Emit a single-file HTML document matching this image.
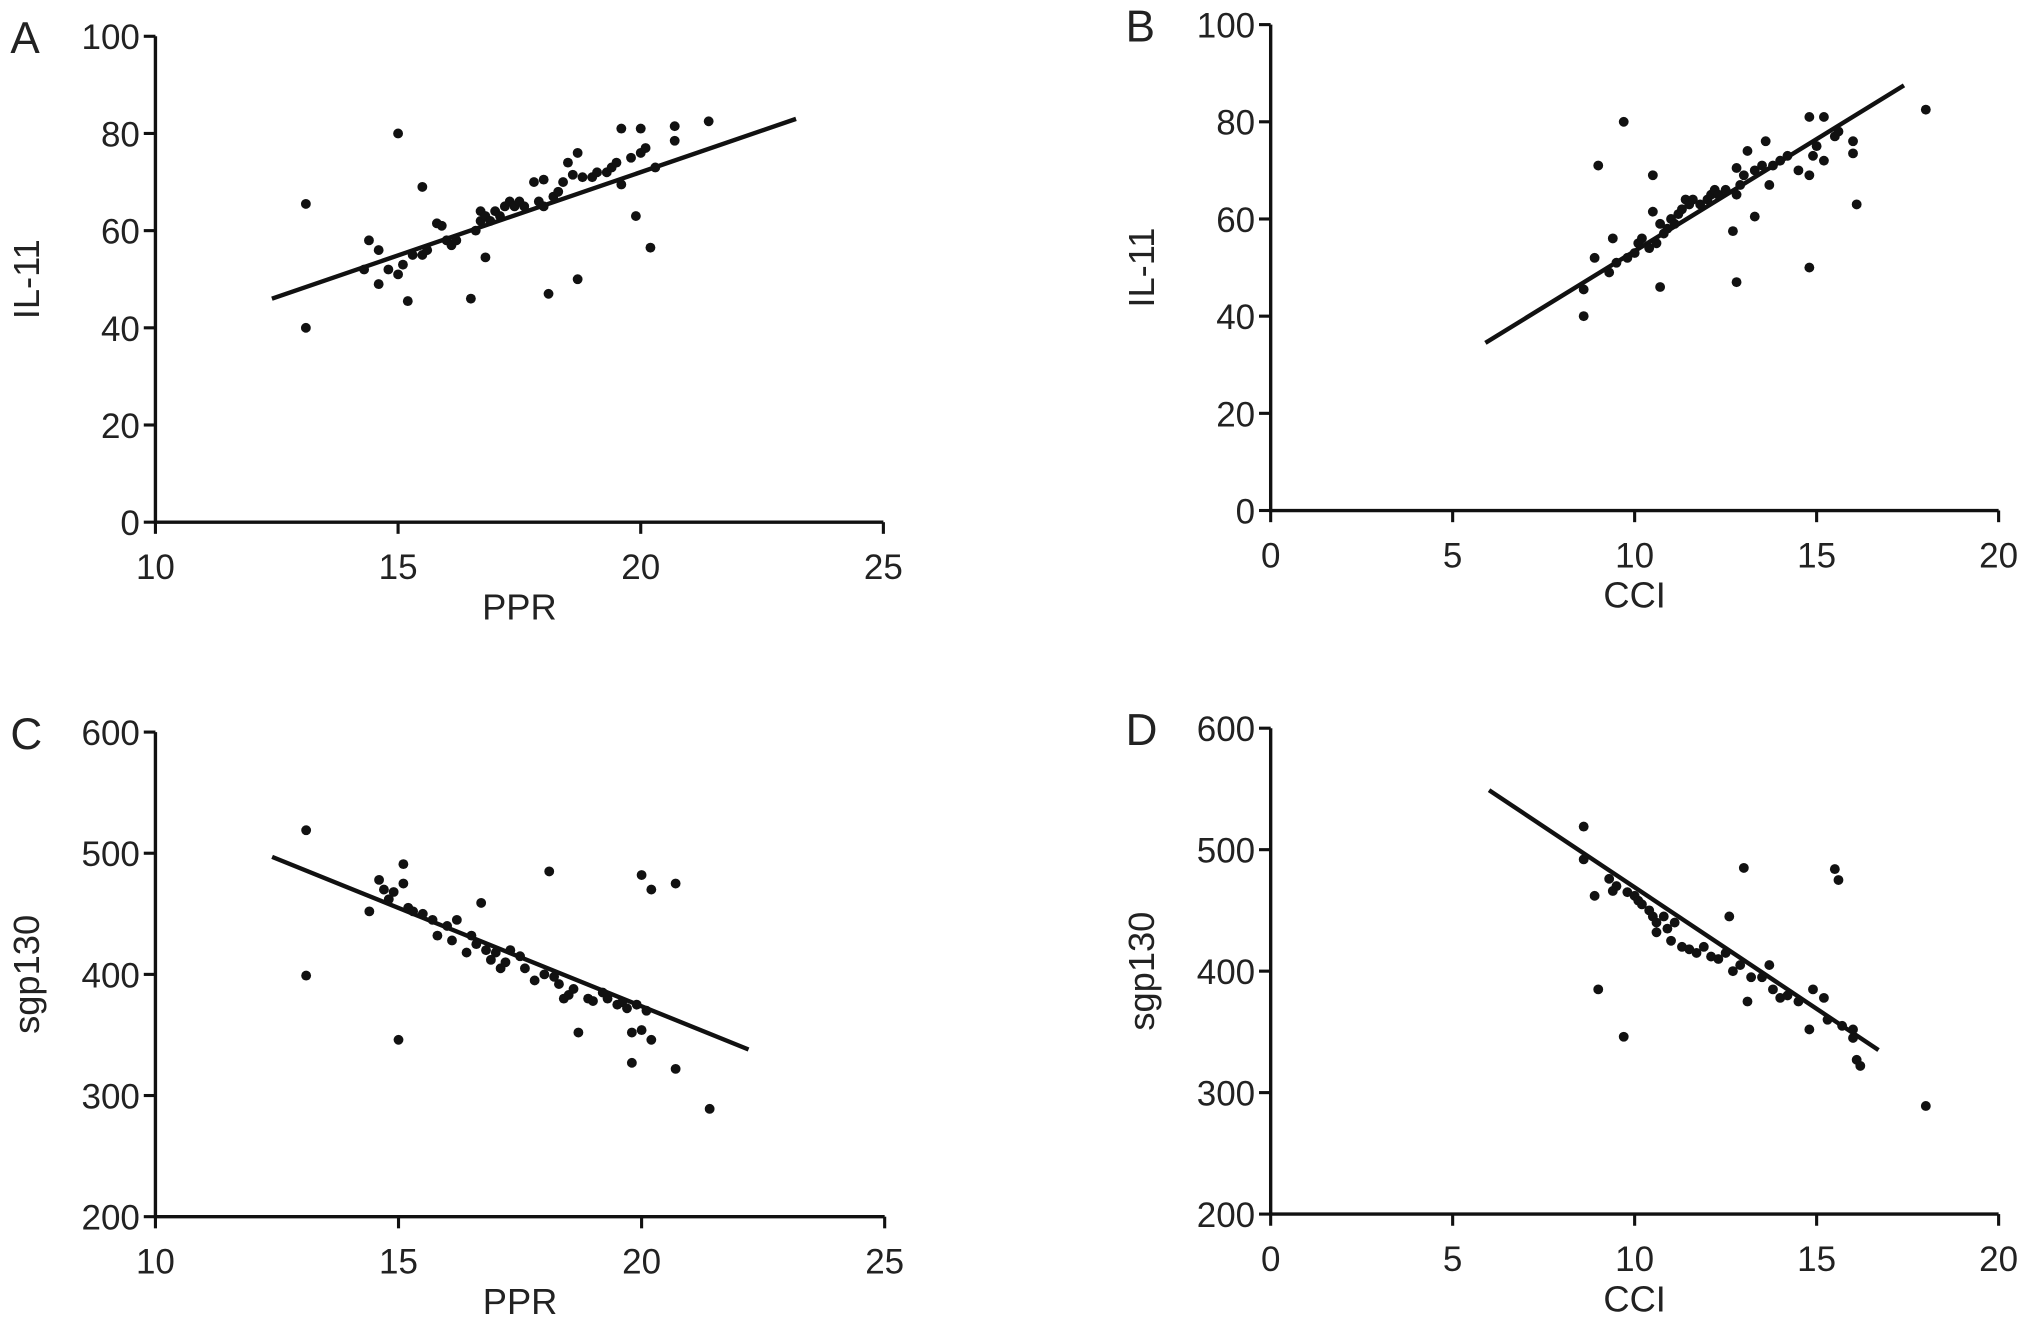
<!DOCTYPE html>
<html><head><meta charset="utf-8"><style>
html,body{margin:0;padding:0;background:#fff;}
svg{display:block;}
text{font-family:"Liberation Sans",sans-serif;fill:#222;}
</style></head><body>
<svg id="fig" width="2031" height="1332" viewBox="0 0 1568 1028" preserveAspectRatio="none" xmlns="http://www.w3.org/2000/svg"></svg>
<script>
// Panel A data: PPR vs IL-11
const aX=[13.1,13.1,15,15.5,14.4,14.6,14.6,14.3,14.8,15,15.1,15.2,15.3,15.5,15.6,15.8,15.9,16,16.1,16.2,16.5,16.6,16.7,16.7,16.8,16.8,16.9,17,17.1,17.2,17.3,17.4,17.5,17.6,17.8,17.9,18,18,18.1,18.2,18.3,18.4,18.5,18.6,18.7,18.7,18.8,19,19.1,19.3,19.4,19.5,19.6,19.6,19.8,19.9,20,20,20.1,20.2,20.3,20.7,20.7,21.4];
const aY=[65.5,40,80,69,58,56,49,52,52,51,53,45.5,55,55,56,61.5,61,58,57,58,46,60,62,64,54.5,63,62,64,63,65,66,65,66,65,70,66,70.5,65,47,67,68,70,74,71.5,76,50,71,71,72,72,73,74,81,69.5,75,63,76,81,77,56.5,73,81.5,78.5,82.5];
const aFitX=[12.4,23.2];
const aFitY=[46,83];
// Panel B data: CCI vs IL-11
const bX=[8.6,8.6,8.9,9,9.4,9.3,9.5,9.7,9.8,10,10.1,10.2,10.4,10.5,10.5,10.6,10.7,10.7,10.8,10.9,11,11.1,11.2,11.3,11.4,11.5,11.6,11.8,12,12.1,12.2,12.3,12.5,12.7,12.8,12.8,12.8,12.9,13,13.1,13.3,13.3,13.5,13.6,13.7,13.8,14,14.2,14.5,14.8,14.8,14.9,14.8,15,15.2,15.2,15.5,15.6,16,16,16.1,18];
const bY=[45.5,40,52,71,56,49,51,80,52,53,55,56,54,69,61.5,55,59,46,57,58,60,59,61,62,64,63,64,63,64,65,66,65,66,57.5,65,70.5,47,67,69,74,60.5,70,71,76,67,71,72,73,70,81,69,73,50,75,81,72,77,78,76,73.5,63,82.5];
const bFitX=[5.9,17.4];
const bFitY=[34.5,87.5];
// Panel C data: PPR vs sgp130
const cX=[13.1,13.1,14.4,14.6,14.7,14.8,14.9,15,15.1,15.1,15.2,15.3,15.5,15.7,15.8,16,16.1,16.2,16.4,16.5,16.6,16.7,16.8,16.9,17,17.1,17.2,17.3,17.5,17.6,17.8,18,18.1,18.2,18.3,18.4,18.5,18.6,18.7,18.9,19,19.2,19.3,19.5,19.6,19.7,19.8,19.8,19.9,20,20,20.1,20.2,20.2,20.7,20.7,21.4];
const cY=[519,399,452,478,470,462,468,346,475,491,455,452,450,445,432,440,428,445,418,432,425,459,420,412,418,405,410,420,415,405,395,400,485,398,392,380,383,388,352,380,378,385,380,375,377,372,352,327,375,354,482,370,470,346,475,322,289];
const cFitX=[12.4,22.2];
const cFitY=[497,338];
// Panel D data: CCI vs sgp130
const dX=[8.6,8.6,8.9,9,9.3,9.4,9.5,9.7,9.8,10,10.1,10.2,10.4,10.5,10.6,10.6,10.8,10.9,11,11.1,11.3,11.5,11.7,11.9,12.1,12.3,12.5,12.6,12.7,12.9,13,13.1,13.2,13.5,13.7,13.8,14,14.2,14.5,14.8,14.9,15.2,15.3,15.5,15.6,15.7,16,16,16.1,16.2,18];
const dY=[519,492,462,385,476,466,470,346,465,462,458,455,450,445,440,432,445,435,425,440,420,418,415,420,412,410,415,445,400,405,485,375,395,395,405,385,378,380,375,352,385,378,360,484,475,355,352,345,327,322,289];
const dFitX=[6,16.7];
const dFitY=[549,335];
// Axis tick labels
const ticksPPR=[10,15,20,25];
const ticksCCI=[0,5,10,15,20];
const ticksIL=[0,20,40,60,80,100];
const ticksSGP=[200,300,400,500,600];

const NS='http://www.w3.org/2000/svg';
const svg=document.getElementById('fig');
function mk(tag,attrs,parent){const e=document.createElementNS(NS,tag);for(const k in attrs)e.setAttribute(k,attrs[k]);(parent||svg).appendChild(e);return e;}

function panel(p){
  const g=mk('g',{});
  
  
  const sx=v=>p.x0+(v-p.xmin)/(p.xmax-p.xmin)*(p.x1-p.x0);
  const sy=v=>p.y0+(v-p.ymin)/(p.ymax-p.ymin)*(p.y1-p.y0);
  const ax=mk('path',{d:`M${p.x0},${p.y1} V${p.y0} H${p.x1}`,fill:'none',stroke:'#111','stroke-width':2.6},g);
  
  
  p.xt.forEach(t=>{
    mk('line',{x1:sx(t),x2:sx(t),y1:p.y0,y2:p.y0+9,stroke:'#111','stroke-width':2.4},g);
    const tx=mk('text',{x:sx(t),y:p.y0+44,'text-anchor':'middle','font-size':27},g);
    tx.textContent=t;
    
    
  });
  p.yt.forEach(t=>{
    mk('line',{x1:p.x0-9,x2:p.x0,y1:sy(t),y2:sy(t),stroke:'#111','stroke-width':2.4},g);
    const tx=mk('text',{x:p.x0-12,y:sy(t)+10,'text-anchor':'end','font-size':27},g);
    tx.textContent=t;
    
    
  });
  const xt=mk('text',{x:(p.x0+p.x1)/2,y:p.y0+75,'text-anchor':'middle','font-size':28},g);
  xt.textContent=p.xlabel;
  
  
  const yc=(p.y0+p.y1)/2;
  const yt=mk('text',{x:p.x0-90,y:yc,'text-anchor':'middle','font-size':28,transform:`rotate(-90 ${p.x0-90} ${yc})`},g);
  yt.textContent=p.ylabel;
  
  
  const lt=mk('text',{x:p.x0-112,y:p.y1+13,'font-size':34,fill:'#333'},g);
  lt.textContent=p.letter;
  
  
  const ln=mk('line',{x1:sx(p.fx[0]),y1:sy(p.fy[0]),x2:sx(p.fx[1]),y2:sy(p.fy[1]),stroke:'#111','stroke-width':3.4},g);
  
  
  p.dx.forEach((v,i)=>{
    const c=mk('circle',{cx:sx(v),cy:sy(p.dy[i]),r:3.8,fill:'#111'},g);
    
    
  });
}
panel({letter:'A',x0:120,x1:682,y0:403,y1:28,xmin:10,xmax:25,ymin:0,ymax:100,xt:ticksPPR,yt:ticksIL,xlabel:'PPR',ylabel:'IL-11',dx:aX,dy:aY,fx:aFitX,fy:aFitY});
panel({letter:'B',x0:981,x1:1543,y0:394,y1:19,xmin:0,xmax:20,ymin:0,ymax:100,xt:ticksCCI,yt:ticksIL,xlabel:'CCI',ylabel:'IL-11',dx:bX,dy:bY,fx:bFitX,fy:bFitY});
panel({letter:'C',x0:120,x1:683,y0:939,y1:565,xmin:10,xmax:25,ymin:200,ymax:600,xt:ticksPPR,yt:ticksSGP,xlabel:'PPR',ylabel:'sgp130',dx:cX,dy:cY,fx:cFitX,fy:cFitY});
panel({letter:'D',x0:981,x1:1543,y0:937,y1:562,xmin:0,xmax:20,ymin:200,ymax:600,xt:ticksCCI,yt:ticksSGP,xlabel:'CCI',ylabel:'sgp130',dx:dX,dy:dY,fx:dFitX,fy:dFitY});
</script>
</body></html>
